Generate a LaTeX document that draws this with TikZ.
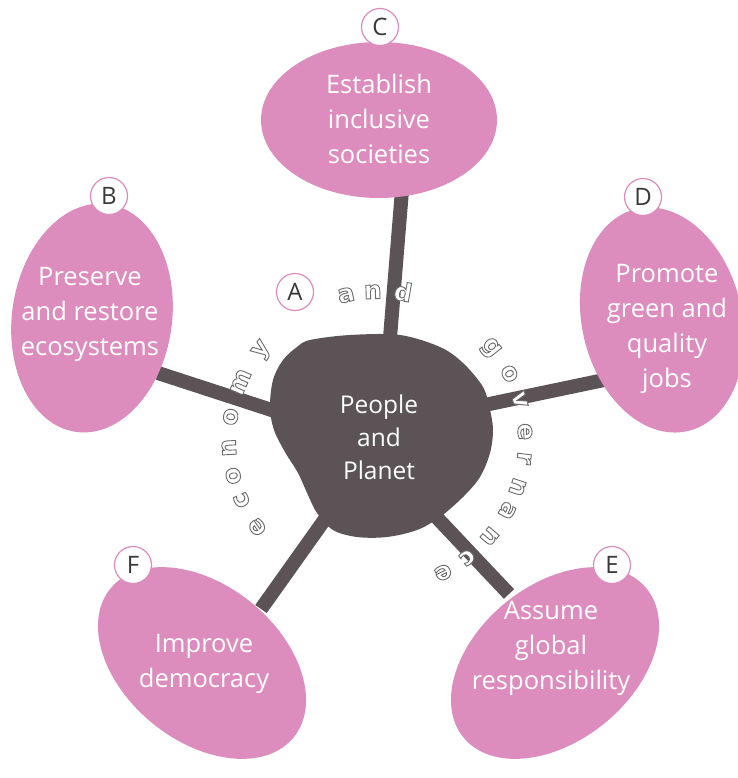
\documentclass[tikz,border=0pt]{standalone}
\usepackage{fontspec}
\setmainfont{Open Sans}
\newfontfamily\ringfont{DejaVu Sans}
\newcommand\hollowtext[1]{\special{pdf:literal direct 2 Tr 0.9 w 0.42 0.42 0.42 RG}#1\special{pdf:literal direct 0 Tr}}
\definecolor{pinkfill}{HTML}{DD8CBE}
\definecolor{hub}{HTML}{5B5355}
\definecolor{labgray}{HTML}{383838}
\begin{document}
\begin{tikzpicture}[x=1pt,y=1pt,
  goal/.style={fill=pinkfill},
  spoke/.style={draw=hub, line width=14pt},
  goaltext/.style={text=white, align=center, inner sep=0pt, font=\fontsize{25.5}{35}\selectfont},
  hubtext/.style={text=white, align=center, inner sep=0pt, font=\fontsize{24.5}{33}\selectfont},
  tag/.style={circle, draw=pinkfill, line width=1.2pt, fill=white, minimum size=37pt, inner sep=0pt, text=labgray, font=\fontsize{24}{26}\selectfont},
  ringletter/.style={anchor=mid, inner sep=0pt, text=white, font=\ringfont\bfseries\fontsize{25}{28}\selectfont}
]
\useasboundingbox (0,0) rectangle (737,-778);
\fill[white] (0,0) rectangle (737,-778);

% spoke end points
\coordinate (hC) at (389,-350); \coordinate (eC) at (402,-190);
\coordinate (hB) at (290,-416); \coordinate (eB) at (158,-373);
\coordinate (hD) at (475,-407); \coordinate (eD) at (604,-380);
\coordinate (hE) at (425,-505); \coordinate (eE) at (509,-594);
\coordinate (hF) at (335,-505); \coordinate (eF) at (261,-609);

\draw[spoke] (hC) -- (eC);
\draw[spoke] (hB) -- (eB);
\draw[spoke] (hD) -- (eD);
\draw[spoke] (hE) -- (eE);
\draw[spoke] (hF) -- (eF);

% hub blob
\fill[hub] plot[smooth cycle, tension=0.55] coordinates {
 (310,-340) (350,-335) (400,-335) (440,-347) (463,-363) (483,-387)
 (490,-410) (493,-430) (490,-453) (480,-477) (463,-497) (440,-517)
 (417,-530) (387,-537) (357,-537) (333,-530) (317,-513) (308,-495)
 (298,-473) (285,-452) (274,-430) (270,-407) (273,-380) (283,-360) (297,-347)};

% goal ellipses
\fill[goal] (379,-120) ellipse [x radius=118pt, y radius=78pt];
\fill[goal, rotate around={-8:(92,-318)}] (92,-318) ellipse [x radius=80pt, y radius=115pt];
\fill[goal, rotate around={13:(662,-320)}] (662,-320) ellipse [x radius=80pt, y radius=114pt];
\fill[goal, rotate around={39:(555,-663)}] (555,-663) ellipse [x radius=118pt, y radius=78pt];
\fill[goal, rotate around={-39:(202,-663)}] (202,-663) ellipse [x radius=118pt, y radius=78pt];

% texts
\node[goaltext] (tC) at (379,-119) {Establish\\inclusive\\societies};
\node[goaltext] (tB) at (90,-314) {Preserve\\and restore\\ecosystems};
\node[goaltext] (tD) at (667,-329) {Promote\\green and\\quality\\jobs};
\node[goaltext] (tE) at (551,-648) {Assume\\global\\responsibility};
\node[goaltext] (tF) at (204,-664) {Improve\\democracy};
\node[hubtext] (tH) at (379,-437) {People\\and\\Planet};

% tags
\node[tag] (lA) at (295,-292) {A};
\node[tag] (lB) at (109,-196) {B};
\node[tag] (lC) at (380,-27) {C};
\node[tag] (lD) at (643,-197) {D};
\node[tag] (lE) at (612,-565) {E};
\node[tag] (lF) at (133,-565) {F};

% ring text
\foreach \l/\a [count=\i] in {e/216, c/204, o/194, n/183, o/171, m/157, y/142,
  a/102, n/91.6, d/80,
  g/39, o/26.6, v/15.8, e/3.2, r/-7, n/-18.5, a/-28.5, n/-40.5, c/-52.5, e/-63.5}
  \node[ringletter, rotate=\a-90] (ring\i) at ([shift={(377,-440)}]\a:144pt) {\hollowtext{\l}};
\end{tikzpicture}
\end{document}
